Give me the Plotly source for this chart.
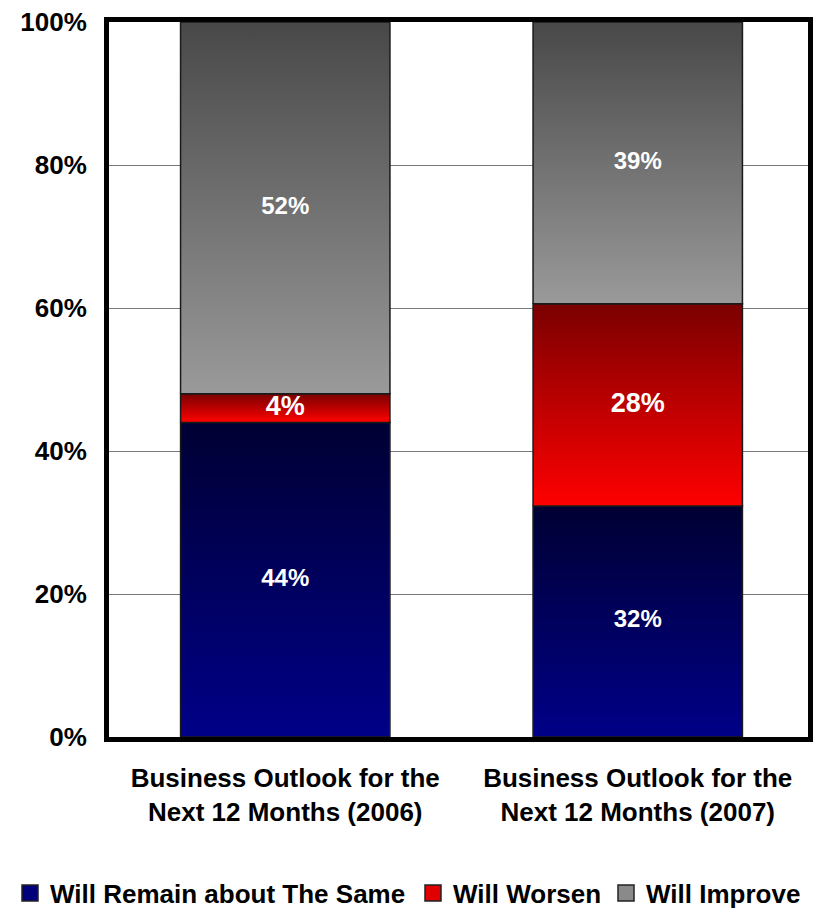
import plotly.graph_objects as go

# Survey responses, percent of respondents
categories = ["Business Outlook for the<br>Next 12 Months (2006)",
              "Business Outlook for the<br>Next 12 Months (2007)"]
series_names = ["Will Remain about The Same", "Will Worsen", "Will Improve"]
remain_same = [44, 32]
worsen = [4, 28]
improve = [52, 39]
y_ticks = [0, 20, 40, 60, 80, 100]
y_tick_labels = ["0%", "20%", "40%", "60%", "80%", "100%"]

series_values = [remain_same, worsen, improve]
# gradient per segment: (bottom colour, top colour)
gradients = [("#000088", "#000033"), ("#ff0000", "#7a0000"), ("#9a9a9a", "#484848")]
legend_colors = ["#00007a", "#e00000", "#8a8a8a"]
legend_ids = ["legend", "legend2", "legend3"]
legend_left_px = [10, 413, 606]
label_sizes = [[24, 24], [27, 27], [24, 24]]

FONT = "Liberation Sans, Arial, sans-serif"
BAR_W = 0.594
W, H = 817, 911

fig = go.Figure()

# 100%-stacked segments drawn as gradient-filled rectangles
totals = [sum(s[i] for s in series_values) for i in range(len(categories))]
label_x, label_y, label_text, label_size = [], [], [], []
for ci in range(len(categories)):
    base = 0.0
    for si, vals in enumerate(series_values):
        share = vals[ci] / totals[ci] * 100
        y0, y1 = base, base + share
        x0, x1 = ci - BAR_W / 2, ci + BAR_W / 2
        bottom, top = gradients[si]
        fig.add_trace(go.Scatter(
            x=[x0, x1, x1, x0, x0], y=[y0, y0, y1, y1, y0],
            mode="lines", fill="toself",
            fillgradient=dict(type="vertical", colorscale=[[0, bottom], [1, top]]),
            line=dict(color="#1a1a1a", width=1.5),
            showlegend=False, hoverinfo="skip",
        ))
        label_x.append(ci)
        label_y.append((y0 + y1) / 2)
        label_text.append(f"{vals[ci]}%")
        label_size.append(label_sizes[si][ci])
        base = y1

fig.add_trace(go.Scatter(
    x=label_x, y=label_y, text=label_text, mode="text",
    textfont=dict(family=FONT, size=label_size, color="white", weight="bold"),
    showlegend=False, hoverinfo="skip",
))

# legend entries, one legend box per series laid out in a row
legend_layout = {}
for name, col, lid, left in zip(series_names, legend_colors, legend_ids, legend_left_px):
    fig.add_trace(go.Scatter(
        x=[None], y=[None], mode="markers", name=name, legend=lid,
        marker=dict(symbol="square", size=16, color=col,
                    line=dict(color="#222222", width=1.5)),
    ))
    legend_layout[lid] = dict(
        orientation="h", xref="container", yref="container",
        x=left / W, xanchor="left", y=1 - 893 / H, yanchor="middle",
        font=dict(family=FONT, size=26, color="black", weight="bold"),
        itemwidth=30, bgcolor="rgba(0,0,0,0)",
    )

fig.update_layout(
    width=W, height=H,
    margin=dict(l=109, r=4, t=22, b=174),
    paper_bgcolor="white", plot_bgcolor="white",
    font=dict(family=FONT, color="black"),
    showlegend=True,
    **legend_layout,
)
fig.update_xaxes(
    range=[-0.5, 1.483], tickvals=[0, 1], ticktext=categories,
    showgrid=False, zeroline=False,
    showline=True, linecolor="black", linewidth=5, mirror=True,
    tickfont=dict(family=FONT, size=26, color="black", weight="bold"),
    ticks="", ticklabelstandoff=14,
)
fig.update_yaxes(
    range=[0, 100], tickvals=y_ticks, ticktext=y_tick_labels,
    showgrid=True, gridcolor="#7a7a7a", gridwidth=1, zeroline=False,
    showline=True, linecolor="black", linewidth=5, mirror=True,
    tickfont=dict(family=FONT, size=26, color="black", weight="bold"),
    ticks="", ticklabelstandoff=12,
)

fig.write_html("out.html")
